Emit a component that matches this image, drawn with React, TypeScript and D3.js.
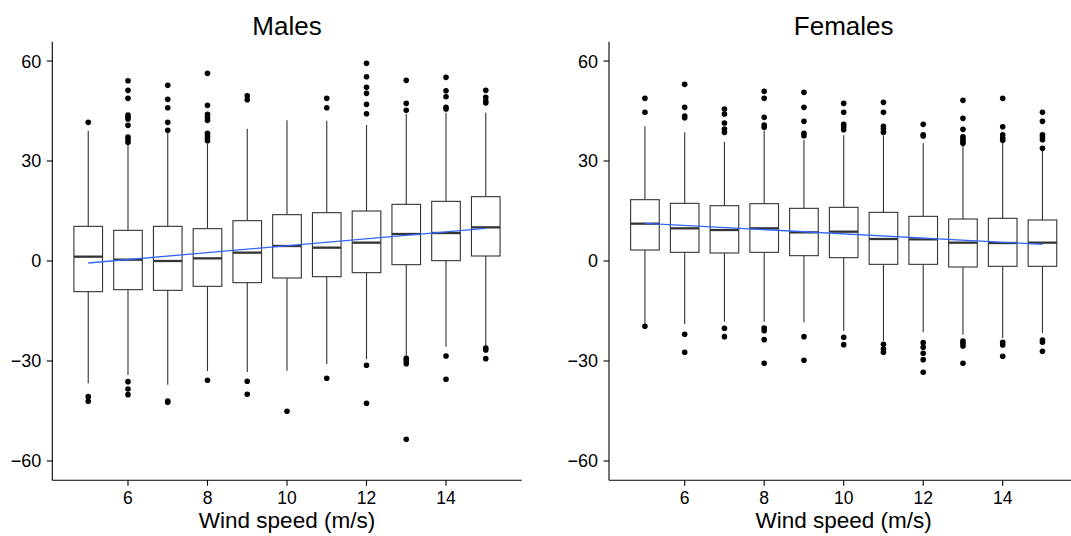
import * as d3 from "d3";
import React from "react";

// wind speed classes (m/s)
const speeds = [5, 6, 7, 8, 9, 10, 11, 12, 13, 14, 15];
const xTicks = [6, 8, 10, 12, 14];
const yTicks = [-60, -30, 0, 30, 60];

// Males
const malesLower = [-36.7, -34.2, -37.1, -33.0, -33.3, -32.9, -30.9, -29.5, -28.6, -25.7, -25.5];
const malesQ1 = [-9.2, -8.6, -8.8, -7.6, -6.5, -5.1, -4.7, -3.5, -1.1, 0.1, 1.5];
const malesMedian = [1.3, 0.4, 0.0, 0.8, 2.5, 4.5, 4.0, 5.5, 8.1, 8.4, 10.1];
const malesQ3 = [10.4, 9.2, 10.4, 9.7, 12.1, 13.9, 14.5, 15.0, 17.0, 17.9, 19.3];
const malesUpper = [39.1, 35.0, 38.3, 35.2, 39.7, 42.2, 42.1, 40.8, 44.1, 44.5, 44.5];
const malesOutliers = [
  [41.6, -40.7, -42.1],
  [54.1, 51.2, 48.8, 43.8, 43.1, 42.6, 40.7, 37.2, 36.5, 35.6, -36.2, -38.4, -40.1],
  [52.7, 48.5, 46.0, 41.6, 39.2, -42.0, -42.4],
  [56.3, 46.7, 44.0, 43.1, 42.2, 38.3, 37.6, 36.9, 36.1, -35.8],
  [49.6, 48.4, -36.1, -40.0],
  [-45.1],
  [48.8, 46.0, -35.2],
  [59.3, 55.3, 52.1, 50.3, 47.0, 44.2, -31.3, -42.7],
  [54.2, 47.3, 45.2, -29.2, -29.9, -30.8, -53.5],
  [55.1, 51.1, 49.3, 46.1, 45.6, -28.5, -35.5],
  [51.2, 49.1, 48.0, 47.4, -26.1, -26.7, -29.3],
];
const malesFitX = [5, 15];
const malesFit = [-0.6, 9.8];

// Females
const femalesLower = [-18.8, -18.9, -18.2, -18.2, -18.4, -20.9, -23.9, -21.4, -22.1, -23.1, -21.6];
const femalesQ1 = [3.3, 2.6, 2.4, 2.6, 1.6, 1.0, -1.0, -1.0, -1.8, -1.6, -1.6];
const femalesMedian = [11.2, 9.8, 9.3, 9.8, 8.6, 8.8, 6.6, 6.5, 5.5, 5.4, 5.5];
const femalesQ3 = [18.4, 17.3, 16.6, 17.2, 15.8, 16.1, 14.6, 13.4, 12.6, 12.8, 12.3];
const femalesUpper = [40.4, 38.6, 35.7, 39.1, 36.3, 37.7, 37.6, 35.3, 34.9, 35.9, 33.1];
const femalesOutliers = [
  [48.8, 44.6, -19.6],
  [53.0, 46.1, 43.5, 43.0, -22.0, -27.4],
  [45.6, 44.1, 41.4, 39.6, 38.6, -20.2, -22.7],
  [50.9, 48.8, 43.1, 40.8, 40.1, -20.1, -20.9, -23.6, -30.7],
  [50.6, 46.1, 41.9, 38.3, 37.6, -22.7, -29.8],
  [47.3, 44.6, 41.0, 40.3, 39.4, -22.9, -25.1],
  [47.6, 44.6, 40.4, 39.6, 38.6, -25.0, -26.4, -27.4],
  [41.0, 37.9, 37.5, -24.5, -25.9, -27.7, -29.6, -33.4],
  [48.2, 42.8, 39.5, 37.3, 36.6, 35.9, 35.3, -24.0, -24.7, -25.5, -30.7],
  [48.8, 40.3, 37.9, 37.0, 36.2, -24.4, -25.2, -28.6],
  [44.6, 41.9, 37.9, 37.2, 36.4, 33.8, -23.7, -24.4, -27.1],
];
const femalesFitX = [5, 15];
const femalesFit = [11.3, 5.0];

const FONT = "'Liberation Sans', Arial, Helvetica, sans-serif";
const BOX_COLOR = "#333333";

const top = 41.7;
const bottom = 480.3;
const panelWidth = 469.4;
const boxWidth = 0.72;

const y = d3.scaleLinear().domain([-65.8, 65.8]).range([bottom, top]);

type PanelProps = {
  title: string;
  left: number;
  lower: number[];
  q1: number[];
  median: number[];
  q3: number[];
  upper: number[];
  outliers: number[][];
  fitX: number[];
  fit: number[];
};

const Panel = ({ title, left, lower, q1, median, q3, upper, outliers, fitX, fit }: PanelProps) => {
  const x = d3.scaleLinear().domain([4.096, 15.904]).range([left, left + panelWidth]);
  const half = (x(1) - x(0)) * boxWidth / 2;
  const line = d3
    .line<number>()
    .x((_d, i) => x(fitX[i]))
    .y((d) => y(d));
  const cx = left + panelWidth / 2;

  return (
    <g>
      <text x={cx} y={35} textAnchor="middle" fontSize={26} fontFamily={FONT} fill="#000">
        {title}
      </text>

      {speeds.map((s, i) => (
        <g key={s}>
          {/* whiskers */}
          <line x1={x(s)} x2={x(s)} y1={y(upper[i])} y2={y(q3[i])} stroke={BOX_COLOR} strokeWidth={1.1} />
          <line x1={x(s)} x2={x(s)} y1={y(q1[i])} y2={y(lower[i])} stroke={BOX_COLOR} strokeWidth={1.1} />
          {/* box */}
          <rect
            x={x(s) - half}
            y={y(q3[i])}
            width={half * 2}
            height={y(q1[i]) - y(q3[i])}
            fill="#fff"
            stroke={BOX_COLOR}
            strokeWidth={1.1}
          />
          <line
            x1={x(s) - half}
            x2={x(s) + half}
            y1={y(median[i])}
            y2={y(median[i])}
            stroke={BOX_COLOR}
            strokeWidth={2.3}
          />
          {outliers[i].map((o, j) => (
            <circle key={j} cx={x(s)} cy={y(o)} r={2.8} fill="#000" />
          ))}
        </g>
      ))}

      {/* linear fit */}
      <path d={line(fit) || ""} fill="none" stroke="#3366FF" strokeWidth={1.3} />

      {/* axes */}
      <line x1={left} x2={left} y1={top} y2={bottom} stroke="#000" strokeWidth={1.1} />
      <line x1={left} x2={left + panelWidth} y1={bottom} y2={bottom} stroke="#000" strokeWidth={1.1} />
      {yTicks.map((t) => (
        <g key={t}>
          <line x1={left - 5.5} x2={left} y1={y(t)} y2={y(t)} stroke="#000" strokeWidth={1.1} />
          <text
            x={left - 11}
            y={y(t)}
            dy="0.36em"
            textAnchor="end"
            fontSize={18}
            fontFamily={FONT}
            fill="#000"
          >
            {t < 0 ? `\u2212${Math.abs(t)}` : t}
          </text>
        </g>
      ))}
      {xTicks.map((t) => (
        <g key={t}>
          <line x1={x(t)} x2={x(t)} y1={bottom} y2={bottom + 5.5} stroke="#000" strokeWidth={1.1} />
          <text x={x(t)} y={503.5} textAnchor="middle" fontSize={17.5} fontFamily={FONT} fill="#000">
            {t}
          </text>
        </g>
      ))}
      <text x={cx} y={527.5} textAnchor="middle" fontSize={22.5} fontFamily={FONT} fill="#000">
        Wind speed (m/s)
      </text>
    </g>
  );
};

export default function App() {
  return (
    <svg
      width={1071}
      height={536}
      style={{ position: "absolute", left: 0, top: 0, background: "#fff" }}
    >
      <Panel
        title="Males"
        left={52.3}
        lower={malesLower}
        q1={malesQ1}
        median={malesMedian}
        q3={malesQ3}
        upper={malesUpper}
        outliers={malesOutliers}
        fitX={malesFitX}
        fit={malesFit}
      />
      <Panel
        title="Females"
        left={609}
        lower={femalesLower}
        q1={femalesQ1}
        median={femalesMedian}
        q3={femalesQ3}
        upper={femalesUpper}
        outliers={femalesOutliers}
        fitX={femalesFitX}
        fit={femalesFit}
      />
    </svg>
  );
}
